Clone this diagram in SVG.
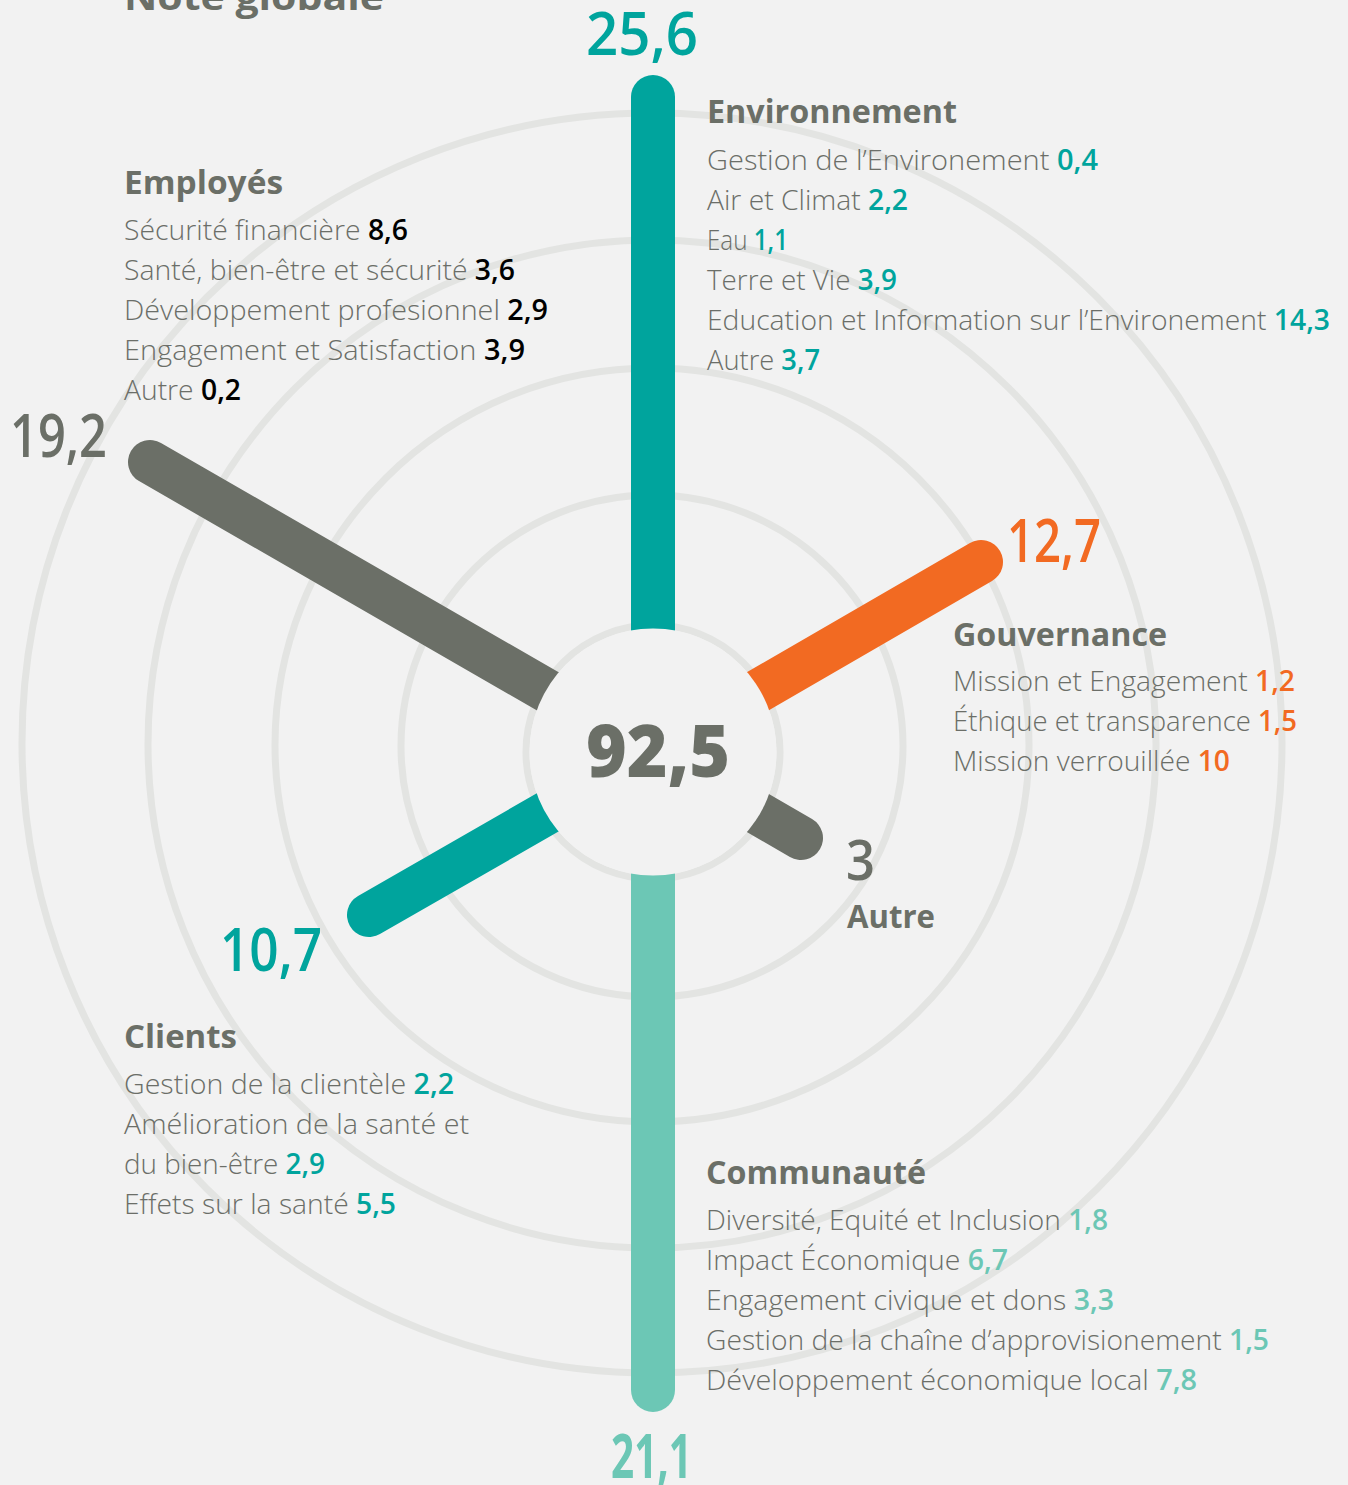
<svg xmlns="http://www.w3.org/2000/svg" width="1348" height="1485" viewBox="0 0 1348 1485">
<style>
.bg{fill:#f2f2f2}
.ring{fill:none;stroke:#e3e4e2;stroke-width:7}
.bar{stroke-width:44;stroke-linecap:round;fill:none}
.t{font-family:"Open Sans","Noto Sans","Liberation Sans",sans-serif}
.title{font-size:32px;font-weight:700;fill:#6b6f67}
.item{font-size:28px;font-weight:300;fill:#6b6e68}
.num{font-weight:600}
.big{font-size:60px;font-weight:600}
.teal{fill:#00a49d}
.lteal{fill:#6cc7b5}
.orange{fill:#f26a22}
.grey{fill:#6b6f67}
.black{fill:#000}
</style>
<rect class="bg" x="0" y="0" width="1348" height="1485"/>
<g id="rings">
<circle class="ring" cx="652" cy="746" r="251"/>
<circle class="ring" cx="652" cy="745" r="377"/>
<circle class="ring" cx="652" cy="744" r="504"/>
<circle class="ring" cx="652" cy="743" r="630"/>
<circle class="ring" cx="653" cy="752" r="127"/>
</g>
<g id="connectors">
<line class="bar" x1="653" y1="752" x2="653" y2="97" stroke="#00a49d"/>
<line class="bar" x1="653" y1="752" x2="150" y2="462" stroke="#6b6f67"/>
<line class="bar" x1="653" y1="752" x2="981" y2="562" stroke="#f26a22"/>
<line class="bar" x1="653" y1="752" x2="801" y2="838" stroke="#6b6f67"/>
<line class="bar" x1="653" y1="752" x2="369" y2="915" stroke="#00a49d"/>
<line class="bar" x1="653" y1="752" x2="653" y2="1390" stroke="#6cc7b5"/>
<circle class="bg" cx="653" cy="752" r="123.5"/>
</g>
<g id="total">
<text class="t grey" x="124" y="10" font-size="36" font-weight="700" textLength="260" lengthAdjust="spacingAndGlyphs">Note globale</text>
<text class="t grey" x="586" y="777" font-size="73" font-weight="800" textLength="144" lengthAdjust="spacingAndGlyphs">92,5</text>
</g>
<g id="environnement">
<text class="t big teal" x="586" y="55" textLength="112" lengthAdjust="spacingAndGlyphs">25,6</text>
<text class="t title" x="707" y="123" textLength="250" lengthAdjust="spacingAndGlyphs">Environnement</text>
<text class="t item" x="707" y="170" font-size="30" textLength="391" lengthAdjust="spacingAndGlyphs">Gestion de l’Environement <tspan class="num teal">0,4</tspan></text>
<text class="t item" x="707" y="210" font-size="30" textLength="201" lengthAdjust="spacingAndGlyphs">Air et Climat <tspan class="num teal">2,2</tspan></text>
<text class="t item" x="707" y="250" font-size="30" textLength="81" lengthAdjust="spacingAndGlyphs">Eau <tspan class="num teal">1,1</tspan></text>
<text class="t item" x="707" y="290" font-size="30" textLength="190" lengthAdjust="spacingAndGlyphs">Terre et Vie <tspan class="num teal">3,9</tspan></text>
<text class="t item" x="707" y="330" font-size="30" textLength="623" lengthAdjust="spacingAndGlyphs">Education et Information sur l’Environement <tspan class="num teal">14,3</tspan></text>
<text class="t item" x="707" y="370" font-size="30" textLength="113" lengthAdjust="spacingAndGlyphs">Autre <tspan class="num teal">3,7</tspan></text>
</g>
<g id="employes">
<text class="t big grey" x="10" y="457" textLength="97" lengthAdjust="spacingAndGlyphs">19,2</text>
<text class="t title" x="124" y="194" textLength="159" lengthAdjust="spacingAndGlyphs">Employés</text>
<text class="t item" x="124" y="240" textLength="284" lengthAdjust="spacingAndGlyphs">Sécurité financière <tspan class="num black">8,6</tspan></text>
<text class="t item" x="124" y="280" textLength="391" lengthAdjust="spacingAndGlyphs">Santé, bien-être et sécurité <tspan class="num black">3,6</tspan></text>
<text class="t item" x="124" y="320" textLength="424" lengthAdjust="spacingAndGlyphs">Développement profesionnel <tspan class="num black">2,9</tspan></text>
<text class="t item" x="124" y="360" textLength="401" lengthAdjust="spacingAndGlyphs">Engagement et Satisfaction <tspan class="num black">3,9</tspan></text>
<text class="t item" x="124" y="400" textLength="117" lengthAdjust="spacingAndGlyphs">Autre <tspan class="num black">0,2</tspan></text>
</g>
<g id="gouvernance">
<text class="t big orange" x="1007" y="562" textLength="94" lengthAdjust="spacingAndGlyphs">12,7</text>
<text class="t title" x="953" y="646" textLength="214" lengthAdjust="spacingAndGlyphs">Gouvernance</text>
<text class="t item" x="953" y="691" textLength="342" lengthAdjust="spacingAndGlyphs">Mission et Engagement <tspan class="num orange">1,2</tspan></text>
<text class="t item" x="953" y="731" textLength="344" lengthAdjust="spacingAndGlyphs">Éthique et transparence <tspan class="num orange">1,5</tspan></text>
<text class="t item" x="953" y="771" textLength="277" lengthAdjust="spacingAndGlyphs">Mission verrouillée <tspan class="num orange">10</tspan></text>
</g>
<g id="autre">
<text class="t grey" x="846" y="880" font-size="56" font-weight="600" textLength="29" lengthAdjust="spacingAndGlyphs">3</text>
<text class="t title" x="847" y="928" textLength="88" lengthAdjust="spacingAndGlyphs">Autre</text>
</g>
<g id="clients">
<text class="t big teal" x="220" y="971" textLength="102" lengthAdjust="spacingAndGlyphs">10,7</text>
<text class="t title" x="124" y="1048" textLength="113" lengthAdjust="spacingAndGlyphs">Clients</text>
<text class="t item" x="124" y="1094" textLength="330" lengthAdjust="spacingAndGlyphs">Gestion de la clientèle <tspan class="num teal">2,2</tspan></text>
<text class="t item" x="124" y="1134" textLength="345" lengthAdjust="spacingAndGlyphs">Amélioration de la santé et</text>
<text class="t item" x="124" y="1174" textLength="201" lengthAdjust="spacingAndGlyphs">du bien-être <tspan class="num teal">2,9</tspan></text>
<text class="t item" x="124" y="1214" textLength="272" lengthAdjust="spacingAndGlyphs">Effets sur la santé <tspan class="num teal">5,5</tspan></text>
</g>
<g id="communaute">
<text class="t lteal" x="611" y="1478" font-size="60" font-weight="700" textLength="81" lengthAdjust="spacingAndGlyphs">21,1</text>
<text class="t title" x="706" y="1184" textLength="220" lengthAdjust="spacingAndGlyphs">Communauté</text>
<text class="t item" x="706" y="1230" font-size="30" textLength="402" lengthAdjust="spacingAndGlyphs">Diversité, Equité et Inclusion <tspan class="num lteal">1,8</tspan></text>
<text class="t item" x="706" y="1270" font-size="30" textLength="302" lengthAdjust="spacingAndGlyphs">Impact Économique <tspan class="num lteal">6,7</tspan></text>
<text class="t item" x="706" y="1310" font-size="30" textLength="408" lengthAdjust="spacingAndGlyphs">Engagement civique et dons <tspan class="num lteal">3,3</tspan></text>
<text class="t item" x="706" y="1350" font-size="30" textLength="563" lengthAdjust="spacingAndGlyphs">Gestion de la chaîne d’approvisionement <tspan class="num lteal">1,5</tspan></text>
<text class="t item" x="706" y="1390" font-size="30" textLength="491" lengthAdjust="spacingAndGlyphs">Développement économique local <tspan class="num lteal">7,8</tspan></text>
</g>
</svg>
